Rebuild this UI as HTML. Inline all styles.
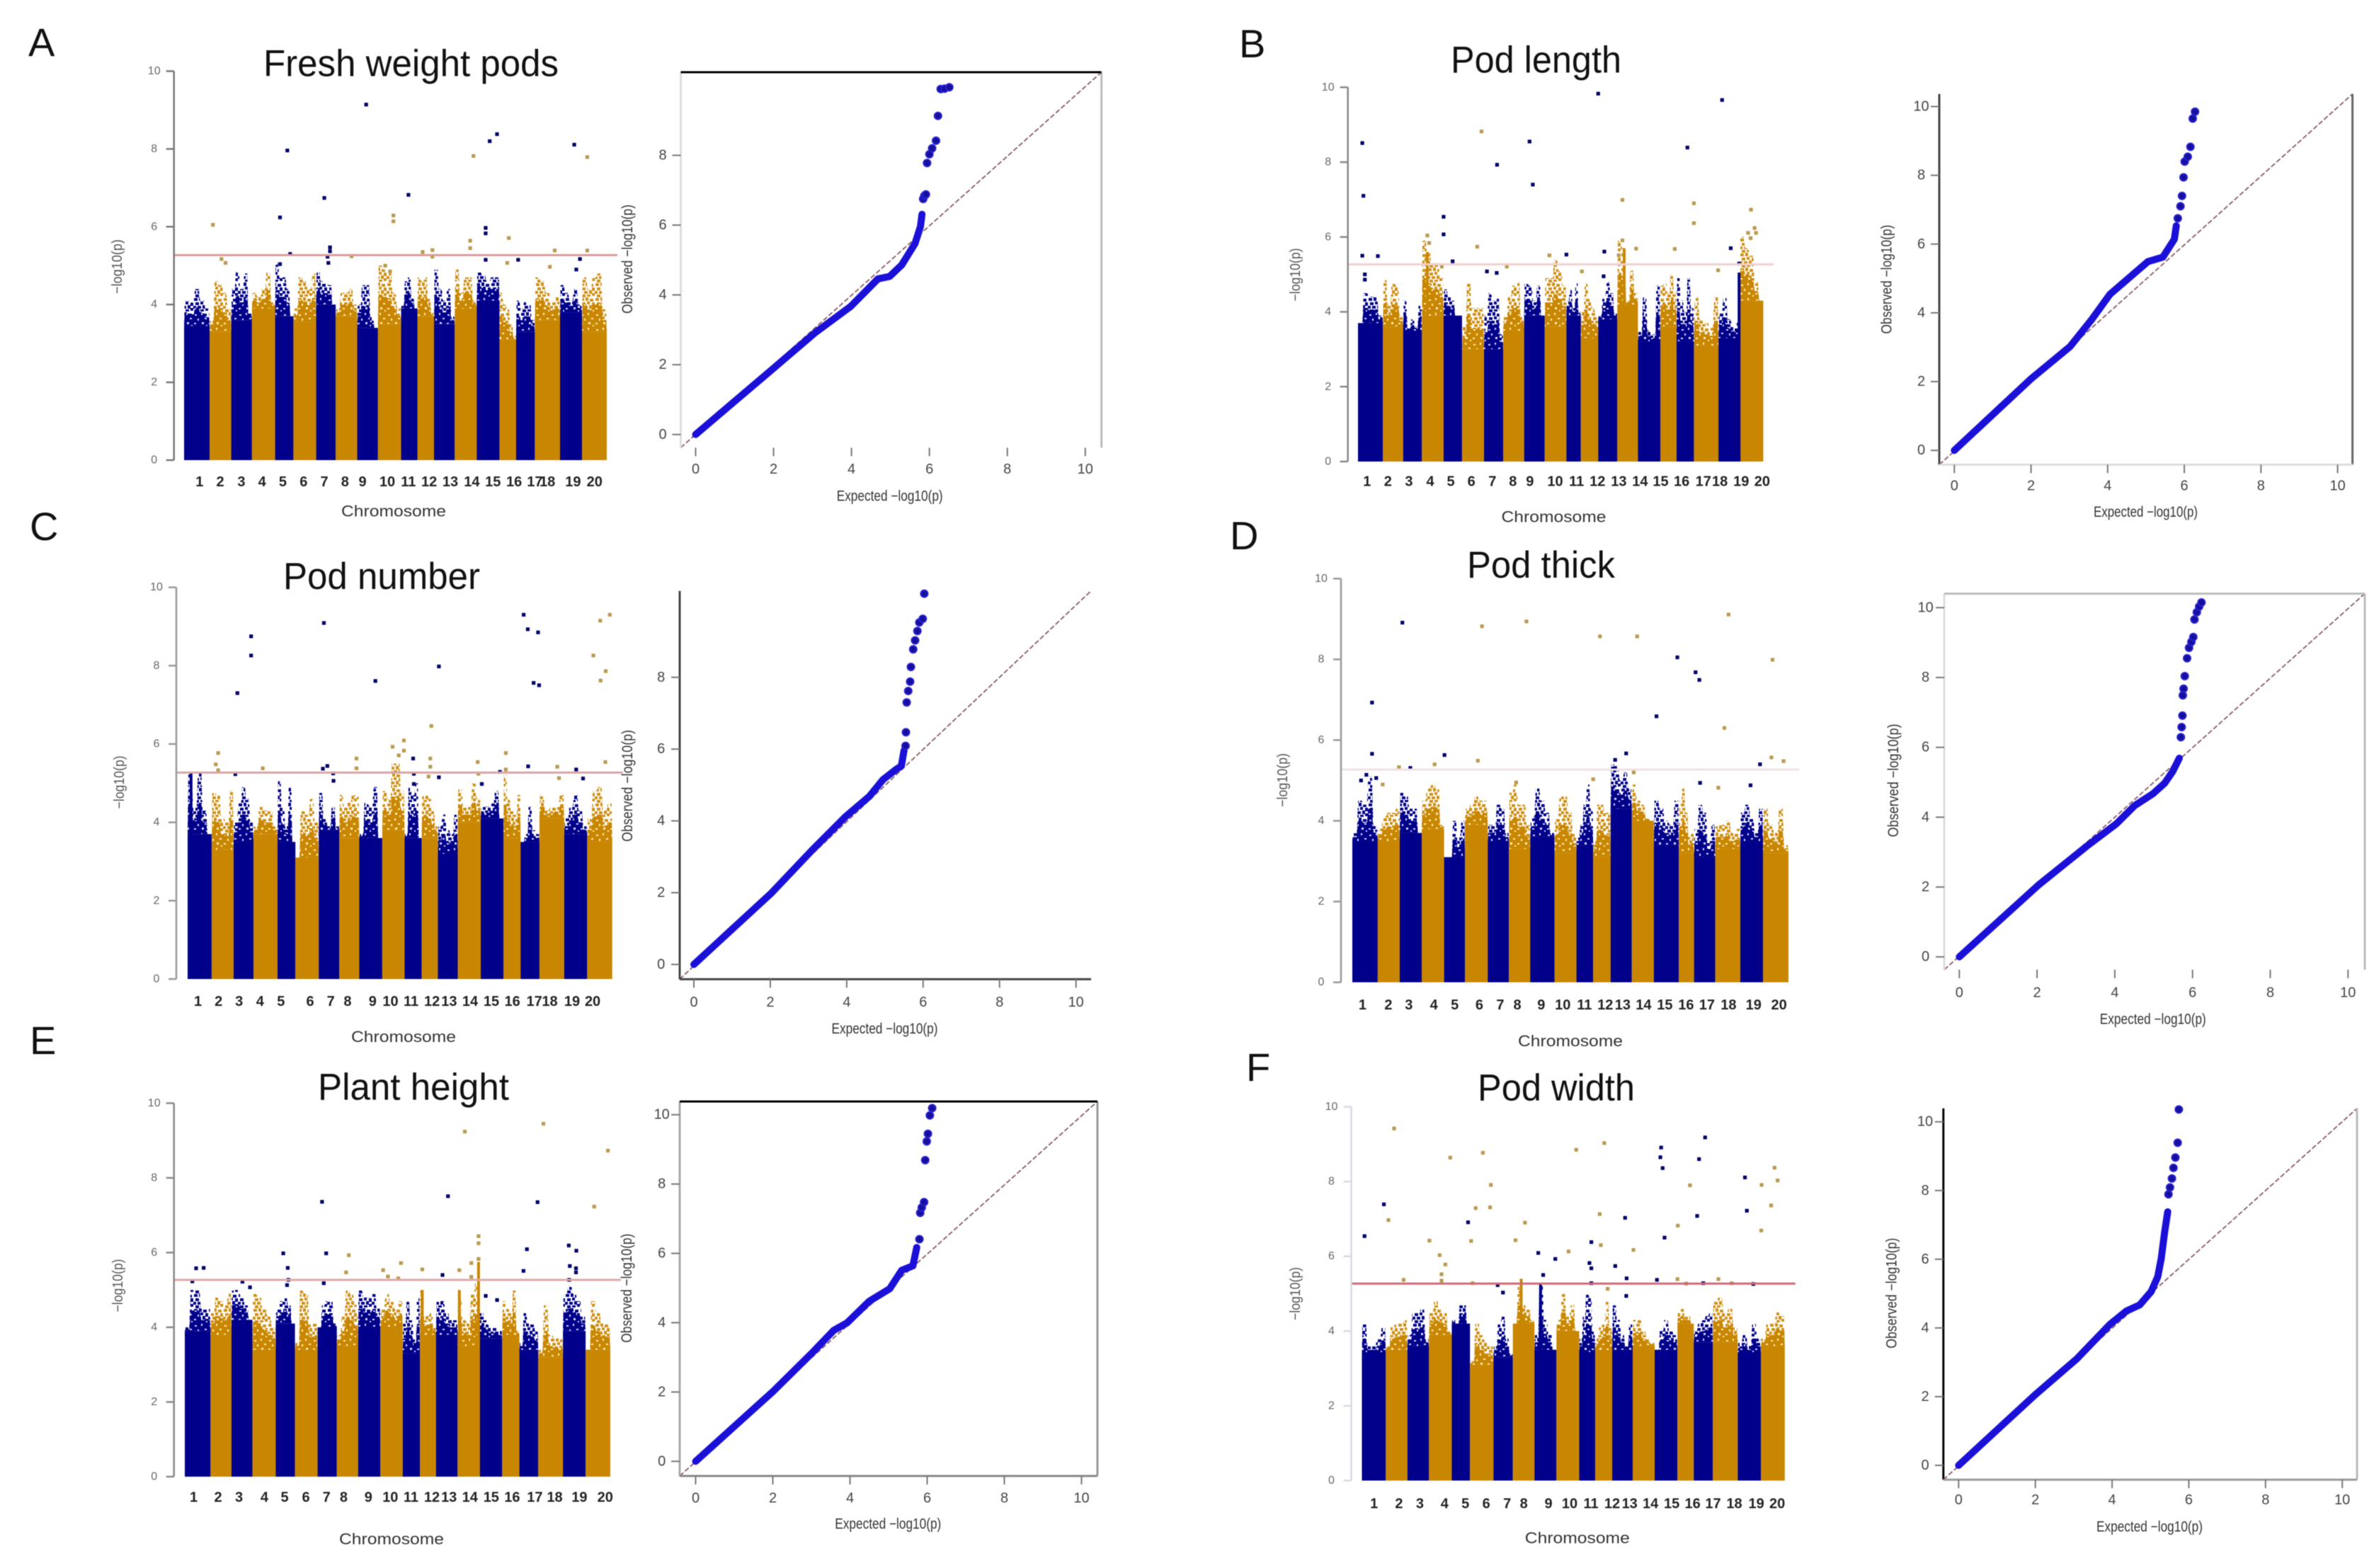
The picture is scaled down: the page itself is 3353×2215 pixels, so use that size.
<!DOCTYPE html>
<html lang="en">
<head>
<meta charset="utf-8">
<title>GWAS Manhattan and QQ plots</title>
<style>
html,body{margin:0;padding:0;background:#fff;}
svg{display:block;}
text{font-family:"Liberation Sans",sans-serif;}
#plots,#labels{filter:blur(0.6px);}
</style>
</head>
<body>
<svg id="figure" xmlns="http://www.w3.org/2000/svg" width="3353" height="2215" viewBox="0 0 3353 2215">
<defs>
<pattern id="sparse-navy" width="21" height="21" patternUnits="userSpaceOnUse"><path fill="#00008a" d="M1 1h5v4h-5z M8 0h4v5h-4z M14 2h5v4h-5z M3 7h5v4h-5z M10 6h4v4h-4z M17 7h4v5h-4z M0 12h4v4h-4z M6 12h5v4h-5z M13 11h4v5h-4z M3 17h5v4h-5z M10 17h5v3h-5z M17 15h4v4h-4z"/></pattern>
<pattern id="sparse-orange" width="21" height="21" patternUnits="userSpaceOnUse"><path fill="#cf9015" d="M1 1h5v4h-5z M8 0h4v5h-4z M14 2h5v4h-5z M3 7h5v4h-5z M10 6h4v4h-4z M17 7h4v5h-4z M0 12h4v4h-4z M6 12h5v4h-5z M13 11h4v5h-4z M3 17h5v4h-5z M10 17h5v3h-5z M17 15h4v4h-4z"/></pattern>
<pattern id="dense-navy" width="21" height="21" patternUnits="userSpaceOnUse"><rect width="21" height="21" fill="#00008a"/><path fill="#d8d8ff" d="M2 3h3v2h-3z M11 1h2v3h-2z M16 8h3v2h-3z M6 9h2v3h-2z M1 15h3v2h-3z M12 14h3v3h-3z M18 18h2v2h-2z"/></pattern>
<pattern id="dense-orange" width="21" height="21" patternUnits="userSpaceOnUse"><rect width="21" height="21" fill="#c98600"/><path fill="#fff2c0" d="M2 3h3v2h-3z M11 1h2v3h-2z M16 8h3v2h-3z M6 9h2v3h-2z M1 15h3v2h-3z M12 14h3v3h-3z M18 18h2v2h-2z"/></pattern>
</defs>
<rect width="3353" height="2215" fill="#fff"/>
<g id="plots"></g>
<g id="labels">
  <g fill="#111" font-size="56">
    <text x="40" y="79">A</text>
    <text x="1750" y="81">B</text>
    <text x="42" y="763">C</text>
    <text x="1737" y="776">D</text>
    <text x="42" y="1489">E</text>
    <text x="1760" y="1527">F</text>
  </g>
  <g fill="#111" font-size="53" text-anchor="middle">
    <text x="580.5" y="107.6" textLength="417" lengthAdjust="spacingAndGlyphs">Fresh weight pods</text>
    <text x="2169.5" y="102.6" textLength="241" lengthAdjust="spacingAndGlyphs">Pod length</text>
    <text x="539" y="832" textLength="278" lengthAdjust="spacingAndGlyphs">Pod number</text>
    <text x="2176.5" y="816" textLength="209" lengthAdjust="spacingAndGlyphs">Pod thick</text>
    <text x="584" y="1553.4" textLength="270" lengthAdjust="spacingAndGlyphs">Plant height</text>
    <text x="2198" y="1554.3" textLength="222" lengthAdjust="spacingAndGlyphs">Pod width</text>
  </g>
  <g fill="#333" font-size="22" text-anchor="middle" dominant-baseline="central">
    <text x="556" y="722" textLength="148" lengthAdjust="spacingAndGlyphs">Chromosome</text>
    <text x="2194.5" y="730" textLength="148" lengthAdjust="spacingAndGlyphs">Chromosome</text>
    <text x="570" y="1464.7" textLength="148" lengthAdjust="spacingAndGlyphs">Chromosome</text>
    <text x="2218" y="1470.7" textLength="148" lengthAdjust="spacingAndGlyphs">Chromosome</text>
    <text x="553" y="2174" textLength="148" lengthAdjust="spacingAndGlyphs">Chromosome</text>
    <text x="2227.8" y="2172.7" textLength="148" lengthAdjust="spacingAndGlyphs">Chromosome</text>
  </g>
  <g fill="#555" font-size="20" text-anchor="middle">
    <text transform="translate(172,376.6) rotate(-90)" textLength="77" lengthAdjust="spacingAndGlyphs">−log10(p)</text>
    <text transform="translate(1836,388) rotate(-90)" textLength="75" lengthAdjust="spacingAndGlyphs">−log10(p)</text>
    <text transform="translate(175,1105) rotate(-90)" textLength="75" lengthAdjust="spacingAndGlyphs">−log10(p)</text>
    <text transform="translate(1818,1102) rotate(-90)" textLength="76" lengthAdjust="spacingAndGlyphs">−log10(p)</text>
    <text transform="translate(173,1816) rotate(-90)" textLength="75" lengthAdjust="spacingAndGlyphs">−log10(p)</text>
    <text transform="translate(1836,1827.5) rotate(-90)" textLength="75" lengthAdjust="spacingAndGlyphs">−log10(p)</text>
  </g>
  <g fill="#333" font-size="21" text-anchor="middle" dominant-baseline="central">
    <text x="1256.7" y="701" textLength="150" lengthAdjust="spacingAndGlyphs">Expected −log10(p)</text>
    <text x="3030.5" y="723.7" textLength="147" lengthAdjust="spacingAndGlyphs">Expected −log10(p)</text>
    <text x="1249.5" y="1453.5" textLength="150" lengthAdjust="spacingAndGlyphs">Expected −log10(p)</text>
    <text x="3040.8" y="1440" textLength="150" lengthAdjust="spacingAndGlyphs">Expected −log10(p)</text>
    <text x="1254.3" y="2153" textLength="150" lengthAdjust="spacingAndGlyphs">Expected −log10(p)</text>
    <text x="3036" y="2157" textLength="150" lengthAdjust="spacingAndGlyphs">Expected −log10(p)</text>
  </g>
  <g fill="#333" font-size="21" text-anchor="middle">
    <text transform="translate(893,366) rotate(-90)" textLength="154" lengthAdjust="spacingAndGlyphs">Observed −log10(p)</text>
    <text transform="translate(2671.5,394.6) rotate(-90)" textLength="154" lengthAdjust="spacingAndGlyphs">Observed −log10(p)</text>
    <text transform="translate(893,1110) rotate(-90)" textLength="158" lengthAdjust="spacingAndGlyphs">Observed −log10(p)</text>
    <text transform="translate(2681,1102.5) rotate(-90)" textLength="160" lengthAdjust="spacingAndGlyphs">Observed −log10(p)</text>
    <text transform="translate(892,1819.7) rotate(-90)" textLength="154" lengthAdjust="spacingAndGlyphs">Observed −log10(p)</text>
    <text transform="translate(2678.5,1826.7) rotate(-90)" textLength="156" lengthAdjust="spacingAndGlyphs">Observed −log10(p)</text>
  </g>
</g>
</svg>
<script>
/* Shared tick labels */
const chromLabels = ['1','2','3','4','5','6','7','8','9','10','11','12','13','14','15','16','17','18','19','20'];
const manhattanYTicks = [0,2,4,6,8,10];
const qqXTicks = [0,2,4,6,8,10];
const qqYTicksShort = [0,2,4,6,8];
const qqYTicksFull = [0,2,4,6,8,10];
const thresholdValue = 5.27;

/* Panel A – Fresh weight pods */
const chromWidths_A = [63,53,51,57,45,56,48,53,51,57,40,41,51,54,56,41,46,62,54,61];
const chromTicks_A = [38,89,141,192,243,294,345,396,439,500,552,603,655,708,760,812,863,894,957,1010];
const solid_A = [3.45,3.3,3.6,3.9,3.7,3.55,4.0,3.7,3.4,3.5,3.9,3.7,3.5,3.9,4.1,3.1,3.3,3.6,3.8,3.3];
const tops_A = [[4.1,4.05,4.4,4.1,3.9],[3.6,4.6,4.5,4.3,3.9],[4.4,4.85,4.4,4.8,3.8],[4.3,4.2,4.4,4.85,4.1],[5.05,4.7,4.7,4.4,3.3],[3.9,4.7,4.6,4.4,4.8],[4.85,4.6,4.55,4.5,3.9],[3.9,4.3,4.3,4.4,4.0],[4.0,4.5,4.5,3.7,3.3],[5.0,4.9,4.8,4.3,3.9],[4.0,4.6,4.7,4.2,3.6],[4.7,4.6,4.7,4.2,3.8],[4.9,4.4,4.1,4.4,3.7],[4.9,4.3,4.7,4.7,4.1],[4.85,4.75,4.6,4.7,4.7],[4.3,4.0,3.9,3.5,3.2],[4.1,3.9,4.1,4.0,3.6],[4.7,4.6,4.3,4.1,4.2],[4.5,4.3,4.1,4.4,4.0],[4.7,4.4,4.7,4.8,3.9]];
const spikes_A = [];
const outliers_A = [[448,9.14],[254,7.96],[770,8.38],[752,8.2],[712,7.82],[960,8.11],[992,7.79],[552,6.82],[345,6.74],[236,6.24],[515,6.29],[515,6.14],[71,6.05],[742,5.97],[742,5.83],[799,5.71],[704,5.64],[704,5.45],[359,5.47],[359,5.37],[261,5.3],[353,5.23],[355,5.07],[587,5.35],[611,5.4],[611,5.23],[912,5.39],[992,5.39],[974,5.17],[822,5.15],[742,5.15],[92,5.17],[102,5.07],[236,5.04],[412,5.24],[495,5.0],[507,4.85],[795,5.07],[900,4.97],[965,4.9]];

/* Panel B – Pod length */
const chromWidths_B = [69,56,52,60,51,61,53,58,57,60,40,48,53,57,62,45,48,68,59,65];
const chromTicks_B = [25,83,141,200,257,314,372,429,476,546,605,663,722,781,838,896,956,1002,1061,1119];
const solid_B = [3.7,3.6,3.5,3.9,3.9,3.0,3.0,3.5,3.9,3.6,3.9,3.3,3.8,4.2,3.2,3.6,3.2,3.1,3.3,4.3];
const tops_B = [[3.6,4.5,4.4,4.4,3.9],[4.85,4.2,4.8,4.7,3.9],[4.3,3.6,3.8,3.6,4.2],[5.9,5.6,5.3,5.3,4.9],[4.6,4.4,4.3,3.9,3.9],[3.6,4.8,4.1,4.1,4.1],[3.9,4.5,4.3,4.4,3.4],[3.9,4.4,4.7,4.8,3.9],[4.75,4.7,4.3,4.7,3.7],[4.9,4.9,5.4,5.1,4.7],[4.3,4.6,4.1,4.8,4.0],[4.0,4.8,4.4,4.1,3.9],[3.9,4.4,4.8,4.5,4.0],[5.9,5.7,4.3,5.1,4.5],[3.5,4.4,3.5,3.4,4.7],[4.7,4.8,4.5,5.0,4.5],[4.9,4.3,4.0,4.9,4.1],[4.4,3.8,3.7,3.6,4.4],[4.0,4.4,3.8,3.6,3.7],[6.0,5.7,5.5,4.8,3.7]];
const spikes_B = [[737,5.7],[1055,5.05],[192,5.6]];
const outliers_B = [[12,8.51],[15,7.1],[12,5.5],[55,5.49],[19,5.0],[19,4.86],[342,8.82],[385,7.93],[475,8.55],[484,7.4],[1008,9.66],[912,8.39],[930,6.9],[930,6.37],[732,6.99],[732,5.91],[722,5.51],[237,6.54],[237,6.07],[330,5.74],[192,6.04],[197,5.84],[262,5.35],[412,5.21],[530,5.51],[577,5.53],[682,5.61],[680,4.95],[620,5.08],[770,5.69],[877,5.68],[997,5.11],[1032,5.7],[1055,5.29],[1088,6.73],[1098,6.24],[1080,6.11],[1102,6.11],[1087,5.97],[384,5.04],[357,5.08],[232,5.21],[665,9.83]];

/* Panel C – Pod number */
const chromWidths_C = [70,64,58,70,52,68,60,58,67,65,50,47,58,67,66,50,55,72,67,73];
const chromTicks_C = [30,90,150,211,272,357,417,466,539,591,651,712,762,823,885,946,1010,1055,1120,1180];
const solid_C = [3.7,3.3,3.5,3.7,3.5,3.1,3.8,3.6,3.6,3.8,3.6,3.6,3.2,4.0,4.1,3.6,3.5,4.1,3.7,3.5];
const tops_C = [[5.25,4.4,5.25,4.3,3.7],[4.75,4.7,4.1,4.0,4.8],[4.0,4.5,4.9,4.6,4.0],[3.9,4.4,4.3,4.3,3.9],[5.05,4.4,3.9,4.9,3.4],[2.9,4.3,4.2,4.6,4.0],[4.75,4.1,3.9,4.4,3.9],[4.7,4.4,4.5,4.7,4.65],[3.7,4.5,4.4,4.9,3.5],[4.8,4.6,5.5,5.5,4.8],[3.7,4.9,4.7,5.0,3.6],[4.7,4.7,4.6,4.3,3.9],[3.9,4.2,3.8,3.7,4.2],[4.9,4.4,4.4,5.0,4.6],[4.4,4.4,4.5,4.8,4.1],[5.3,4.6,4.3,4.2,4.7],[3.2,3.7,4.4,3.8,3.7],[4.7,4.3,4.4,4.4,4.7],[4.1,4.4,4.7,4.3,3.9],[4.1,4.8,4.9,4.3,4.5]];
const spikes_C = [[10,5.25]];
const outliers_C = [[185,8.75],[185,8.26],[145,7.3],[397,9.09],[547,7.61],[732,7.98],[710,6.46],[979,9.3],[991,8.93],[1021,8.85],[1008,7.56],[1024,7.5],[1202,9.15],[1230,9.3],[1182,8.26],[1218,7.86],[1203,7.62],[630,6.09],[597,5.93],[630,5.83],[615,5.71],[657,5.63],[707,5.63],[707,5.42],[492,5.63],[492,5.38],[219,5.38],[89,5.77],[89,5.33],[82,5.48],[139,5.23],[407,5.44],[394,5.37],[424,5.25],[425,5.06],[845,5.54],[847,5.24],[927,5.77],[927,5.35],[910,5.29],[992,5.43],[1077,5.42],[1132,5.35],[1217,5.54],[732,5.15],[702,5.17],[857,4.98],[659,5.24],[659,4.98],[1152,5.12],[1082,5.13]];

/* Panel D – Pod thick */
const chromWidths_D = [67,58,58,59,55,60,56,56,64,58,44,46,56,58,66,40,56,66,60,67];
const chromTicks_D = [27,95,149,215,270,335,390,435,498,555,612,667,713,768,824,880,935,992,1058,1125];
const solid_D = [3.5,3.5,3.7,3.8,3.1,3.9,3.5,3.3,3.6,3.2,3.4,3.1,4.3,4.0,3.4,3.2,3.1,3.3,3.5,3.2];
const tops_D = [[3.7,4.5,4.4,5.1,3.9],[3.8,4.1,4.2,4.2,4.3],[4.7,4.6,4.3,4.3,3.7],[4.5,4.8,4.9,4.8,3.9],[3.1,3.1,4.0,3.6,4.0],[4.3,4.4,4.6,4.5,4.5],[3.9,3.9,4.4,4.3,3.7],[4.7,4.9,4.4,4.4,3.9],[4.1,4.8,4.5,4.2,3.7],[4.1,4.6,4.6,4.2,3.7],[3.6,3.9,4.4,4.9,4.3],[3.5,4.4,4.4,4.2,4.2],[5.4,5.25,5.0,5.2,4.8],[4.9,4.5,4.4,4.1,3.9],[4.5,4.3,4.0,3.9,4.5],[4.5,4.8,4.2,3.6,3.7],[3.8,4.4,4.2,3.5,3.9],[3.9,3.9,4.0,3.7,3.8],[4.2,4.4,4.1,3.7,4.3],[4.3,3.9,3.7,4.3,3.4]];
const spikes_D = [];
const outliers_D = [[52,6.93],[52,5.66],[132,8.91],[342,8.82],[459,8.94],[653,8.57],[751,8.57],[992,9.11],[857,8.05],[905,7.68],[915,7.49],[802,6.59],[981,6.3],[1108,7.99],[243,5.63],[331,5.49],[217,5.4],[123,5.33],[153,5.31],[722,5.67],[693,5.51],[693,5.31],[1075,5.4],[1105,5.57],[1137,5.48],[37,5.14],[23,5.0],[63,5.06],[635,5.03],[917,4.94],[1050,4.88],[965,4.82],[432,4.95],[80,4.9],[742,5.2]];

/* Panel E – Plant height */
const chromWidths_E = [75,61,61,68,56,66,56,62,65,65,50,47,63,62,68,50,55,72,66,72];
const chromTicks_E = [26,97,158,232,291,353,413,463,535,599,659,720,770,831,893,954,1020,1078,1150,1225];
const solid_E = [3.9,3.8,4.2,3.4,4.1,3.4,4.0,3.5,4.0,4.0,3.3,3.8,3.8,3.5,3.7,3.8,3.4,3.2,3.9,3.4];
const tops_E = [[4.0,5.0,5.0,4.5,4.5],[4.4,4.8,4.7,4.6,4.9],[5.0,5.0,4.8,4.6,4.2],[4.9,4.8,4.5,4.3,4.0],[4.5,4.7,4.8,4.6,4.0],[3.6,5.0,4.9,4.1,4.1],[3.9,4.6,4.7,4.7,4.1],[3.8,4.3,5.0,4.9,4.6],[5.0,4.8,4.8,4.9,4.5],[4.5,4.9,4.7,4.5,4.7],[4.1,4.7,4.2,3.7,4.8],[5.0,4.3,4.3,4.4,4.0],[4.7,4.7,4.4,4.2,4.2],[4.9,4.2,4.1,4.9,5.2],[4.4,4.2,4.0,4.0,3.9],[4.7,4.5,4.4,5.0,3.9],[3.6,4.4,4.1,4.1,3.9],[3.4,4.6,3.8,3.7,3.7],[4.9,5.1,4.9,4.7,4.3],[3.4,4.7,4.4,4.1,4.1]];
const spikes_E = [[692,5.0],[800,5.0],[856,5.75]];
const outliers_E = [[816,9.24],[1045,9.45],[1233,8.73],[400,7.36],[767,7.51],[1028,7.35],[1193,7.23],[856,6.44],[856,6.25],[856,5.83],[835,5.72],[287,5.98],[412,5.98],[478,5.93],[997,6.09],[1119,6.19],[1141,6.05],[300,5.59],[33,5.58],[55,5.59],[630,5.72],[578,5.53],[470,5.47],[692,5.55],[800,5.53],[987,5.51],[1122,5.64],[1140,5.58],[1140,5.47],[751,5.4],[835,5.35],[592,5.36],[622,5.31],[302,5.27],[298,5.13],[22,5.23],[168,5.22],[1120,5.27],[190,5.07],[405,5.18],[877,4.84],[910,4.73]];

/* Panel F – Pod width */
const chromWidths_F = [63,57,57,60,48,62,51,57,58,60,42,45,54,58,60,43,50,66,61,63];
const chromTicks_F = [32,98,153,218,273,328,383,427,492,548,604,660,706,761,817,872,926,982,1040,1095];
const solid_F = [3.4,3.5,3.6,3.9,4.2,3.1,3.3,4.2,3.5,4.0,3.4,3.5,3.5,3.6,3.5,4.2,3.7,3.7,3.4,3.6];
const tops_F = [[4.2,3.6,3.6,3.8,4.1],[3.6,4.1,4.2,4.2,4.3],[3.9,4.5,4.5,4.6,3.8],[4.5,4.8,4.6,4.5,4.0],[4.3,4.2,4.7,4.7,3.9],[3.2,4.2,3.9,3.7,3.6],[3.6,4.2,4.4,3.8,3.4],[4.0,5.2,4.7,4.6,4.3],[3.9,5.25,4.3,3.9,3.5],[4.3,5.0,4.4,4.7,3.9],[3.8,4.4,5.0,4.9,4.0],[3.8,4.1,4.2,4.8,4.1],[4.7,4.3,3.9,3.6,4.2],[4.3,4.3,4.0,3.8,3.7],[3.5,4.0,4.3,4.0,3.9],[4.5,4.6,4.4,4.4,4.2],[4.0,4.2,4.3,4.4,4.5],[4.8,4.9,4.5,4.6,4.1],[3.7,3.9,3.6,4.2,3.8],[3.8,4.2,4.2,4.5,4.4]];
const spikes_F = [[420,5.4],[471,5.25]];
const outliers_F = [[85,9.42],[58,7.39],[70,6.97],[7,6.54],[178,6.42],[233,8.64],[319,8.77],[340,7.91],[338,7.31],[300,7.29],[280,6.91],[288,6.41],[430,6.9],[405,6.43],[465,6.09],[510,5.93],[565,8.85],[545,6.13],[639,9.03],[627,7.13],[605,6.38],[630,6.3],[600,5.82],[605,5.68],[694,7.03],[716,6.17],[668,5.74],[789,8.91],[787,8.65],[793,8.36],[905,9.18],[889,8.6],[865,7.9],[884,7.08],[833,6.82],[798,6.5],[1010,8.11],[1054,7.91],[1015,7.22],[1053,6.69],[1088,8.37],[1096,8.03],[1079,7.36],[205,6.03],[220,5.78],[210,5.52],[210,5.35],[110,5.37],[478,5.5],[605,5.28],[698,5.41],[778,5.37],[832,5.39],[900,5.28],[940,5.39],[975,5.28],[1032,5.26],[855,5.27],[292,5.28],[358,5.23],[372,5.03],[648,5.13],[697,4.94]];

/* QQ series: [expected, observed] */
const qqBody_A = [[0,0],[2.0,1.9],[3.07,2.92],[3.98,3.67],[4.68,4.46],[4.98,4.53],[5.29,4.86],[5.63,5.47],[5.77,5.96],[5.81,6.31]];
const qqTail_A = [[5.84,6.75],[5.87,6.84],[5.91,6.88],[5.94,7.78],[6.0,8.03],[6.07,8.2],[6.17,8.42],[6.22,9.13],[6.29,9.9],[6.39,9.91],[6.51,9.95]];
const qqBody_B = [[0,0],[1.99,2.07],[3.02,3.02],[3.58,3.8],[4.06,4.54],[5.05,5.49],[5.44,5.62],[5.74,6.14],[5.79,6.53]];
const qqTail_B = [[5.83,6.75],[5.9,7.1],[5.94,7.4],[5.98,7.94],[6.01,8.4],[6.09,8.54],[6.16,8.83],[6.22,9.65],[6.28,9.85]];
const qqBody_C = [[0,0],[2.02,1.98],[3.09,3.18],[3.97,4.12],[4.59,4.68],[4.95,5.15],[5.3,5.44],[5.43,5.53],[5.5,5.96]];
const qqTail_C = [[5.54,6.09],[5.55,6.47],[5.57,7.3],[5.61,7.62],[5.66,7.88],[5.68,8.29],[5.74,8.78],[5.79,9.03],[5.85,9.29],[5.9,9.53],[5.99,9.63],[6.03,10.33]];
const qqBody_D = [[0,0],[2.04,2.06],[3.28,3.17],[4.04,3.81],[4.51,4.33],[4.98,4.67],[5.28,4.97],[5.49,5.31],[5.66,5.69]];
const qqTail_D = [[5.7,6.29],[5.72,6.58],[5.74,6.91],[5.75,7.49],[5.77,7.68],[5.8,8.04],[5.86,8.55],[5.91,8.85],[5.97,9.02],[6.02,9.16],[6.05,9.66],[6.11,9.87],[6.17,10.03],[6.23,10.15]];
const qqBody_E = [[0,0],[2,2.01],[3.01,3.12],[3.58,3.78],[3.93,4],[4.5,4.62],[5.03,4.98],[5.34,5.51],[5.63,5.64],[5.73,6.17]];
const qqTail_E = [[5.8,6.41],[5.82,7.17],[5.86,7.32],[5.92,7.48],[5.95,8.69],[5.99,9.23],[6.02,9.45],[6.07,9.98],[6.13,10.19]];
const qqBody_F = [[0,0],[2,2.06],[3.08,3.1],[3.94,4.1],[4.37,4.49],[4.72,4.67],[5.02,5.06],[5.19,5.49],[5.28,6.01],[5.37,6.79],[5.45,7.38]];
const qqTail_F = [[5.47,7.89],[5.51,8.09],[5.56,8.35],[5.6,8.66],[5.65,8.96],[5.71,9.39],[5.74,10.36]];

const NS = 'http://www.w3.org/2000/svg';
const plots = document.getElementById('plots');
const NAVY = '#00008a';
const ORANGE = '#c98600';

function make(tag, attrs, parent) {
  const node = document.createElementNS(NS, tag);
  for (const key in attrs) node.setAttribute(key, attrs[key]);
  parent.appendChild(node);
  return node;
}

function drawManhattan(id, geo, widths, ticks, solid, tops, spikes, outliers) {
  const g = make('g', {}, plots);
  
  
  const total = widths.reduce((a, b) => a + b, 0);
  const xScale = v => geo.barL + v / total * (geo.barR - geo.barL);
  const yScale = v => geo.y0 - v / 10 * (geo.y0 - geo.y10);
  const isNavy = i => i % 2 === 0;
  const chromOf = x => {
    let c = 0;
    for (let i = 0; i < widths.length; i++) {
      if (x < c + widths[i]) return i;
      c += widths[i];
    }
    return widths.length - 1;
  };
  let start = 0;
  widths.forEach((w, i) => {
    const left = xScale(start);
    const right = xScale(start + w);
    const suffix = isNavy(i) ? 'navy' : 'orange';
    const base = yScale(solid[i]);
    const n = tops[i].length;
    const upper = [left + ',' + base];
    const lower = [left + ',' + base];
    tops[i].forEach((t, k) => {
      const p1 = xScale(start + w * (k + 0.12) / n);
      const p2 = xScale(start + w * (k + 0.88) / n);
      const up = yScale(Math.max(t, solid[i]));
      const low = yScale(solid[i] + Math.max(t - solid[i], 0) * 0.5);
      upper.push(p1 + ',' + up, p2 + ',' + up);
      lower.push(p1 + ',' + low, p2 + ',' + low);
    });
    upper.push(right + ',' + base);
    lower.push(right + ',' + base);
    const sparse = make('polygon', {points: upper.join(' '), fill: 'url(#sparse-' + suffix + ')'}, g);
    
    
    const dense = make('polygon', {points: lower.join(' '), fill: 'url(#dense-' + suffix + ')'}, g);
    
    
    const bar = make('rect', {x: left, y: base, width: right - left, height: geo.y0 - base, fill: isNavy(i) ? NAVY : ORANGE}, g);
    
    
    start += w;
  });
  spikes.forEach(s => {
    const top = yScale(s[1]);
    const spike = make('rect', {x: xScale(s[0]) - 2, y: top, width: 4, height: geo.y0 - top, fill: isNavy(chromOf(s[0])) ? NAVY : ORANGE}, g);
    
    
  });
  outliers.forEach(p => {
    const navy = isNavy(chromOf(p[0]));
    const dot = make('rect', {x: xScale(p[0]) - 2.6, y: yScale(p[1]) - 2.6, width: 5.2, height: 5.2, fill: navy ? '#00006a' : '#b99a50'}, g);
    
    
  });
  const threshold = make('line', {x1: geo.axisX, x2: geo.barR + 15, y1: yScale(thresholdValue), y2: yScale(thresholdValue), stroke: geo.lineColor, 'stroke-width': 3}, g);
  
  
  const axis = make('line', {x1: geo.axisX, x2: geo.axisX, y1: geo.y10, y2: geo.y0, stroke: geo.axisColor, 'stroke-width': 2.5}, g);
  
  
  manhattanYTicks.forEach(v => {
    const tick = make('line', {x1: geo.axisX - 11, x2: geo.axisX, y1: yScale(v), y2: yScale(v), stroke: geo.axisColor, 'stroke-width': 2.5}, g);
    
    
    const label = make('text', {x: geo.axisX - 28, y: yScale(v), 'font-size': 16, fill: '#666', 'text-anchor': 'middle', 'dominant-baseline': 'central'}, g);
    label.textContent = String(v);
    
    
  });
  chromLabels.forEach((c, i) => {
    const label = make('text', {x: xScale(ticks[i]), y: geo.labelY, 'font-size': 20, 'font-weight': 'bold', fill: '#222', 'text-anchor': 'middle', 'dominant-baseline': 'central'}, g);
    label.textContent = c;
    
    
  });
}

function drawQQ(id, geo, body, tail, yTicks) {
  const g = make('g', {}, plots);
  
  
  const xScale = v => geo.x0 + v * geo.xUnit;
  const yScale = v => geo.y0 - v * geo.yUnit;
  const diagonal = make('line', {x1: geo.l, y1: geo.b, x2: geo.r, y2: geo.t, stroke: '#8a5a6a', 'stroke-width': 1.8, 'stroke-dasharray': '7 3'}, g);
  
  
  const edges = [
    ['left', geo.l, geo.t, geo.l, geo.b, geo.left],
    ['right', geo.r, geo.t, geo.r, geo.b, geo.right],
    ['top', geo.l, geo.t, geo.r, geo.t, geo.top],
    ['bottom', geo.l, geo.b, geo.r, geo.b, geo.bottom]
  ];
  edges.forEach(e => {
    if (!e[5]) return;
    const edge = make('line', {x1: e[1], y1: e[2], x2: e[3], y2: e[4], stroke: e[5], 'stroke-width': 3}, g);
    
    
  });
  qqXTicks.forEach(v => {
    const tick = make('line', {x1: xScale(v), x2: xScale(v), y1: geo.b, y2: geo.b + 12, stroke: '#777', 'stroke-width': 2}, g);
    
    
    const label = make('text', {x: xScale(v), y: geo.xLabelY, 'font-size': 20, fill: '#444', 'text-anchor': 'middle', 'dominant-baseline': 'central'}, g);
    label.textContent = String(v);
    
    
  });
  yTicks.forEach(v => {
    const tick = make('line', {x1: geo.l - 12, x2: geo.l, y1: yScale(v), y2: yScale(v), stroke: '#777', 'stroke-width': 2}, g);
    
    
    const label = make('text', {x: geo.yLabelX, y: yScale(v), 'font-size': 20, fill: '#444', 'text-anchor': 'middle', 'dominant-baseline': 'central'}, g);
    label.textContent = String(v);
    
    
  });
  const band = make('polyline', {points: body.map(p => xScale(p[0]) + ',' + yScale(p[1])).join(' '), fill: 'none', stroke: '#1a10d8', 'stroke-width': 10, 'stroke-linecap': 'round', 'stroke-linejoin': 'round'}, g);
  
  
  tail.forEach(p => {
    const dot = make('circle', {cx: xScale(p[0]), cy: yScale(p[1]), r: 5, fill: '#14109c', stroke: '#2a20d0', 'stroke-width': 2}, g);
    
    
  });
}

drawManhattan('a', {axisX:245.7,y0:650,y10:100.5,barL:260,barR:857,labelY:681,axisColor:'#777',lineColor:'#dc9a9a'}, chromWidths_A, chromTicks_A, solid_A, tops_A, spikes_A, outliers_A);
drawManhattan('b', {axisX:1903.7,y0:652,y10:123.3,barL:1918,barR:2490.4,labelY:680.7,axisColor:'#888',lineColor:'#f0d0d0'}, chromWidths_B, chromTicks_B, solid_B, tops_B, spikes_B, outliers_B);
drawManhattan('c', {axisX:249,y0:1383,y10:829.7,barL:265,barR:864.7,labelY:1415,axisColor:'#999',lineColor:'#d8a5a5'}, chromWidths_C, chromTicks_C, solid_C, tops_C, spikes_C, outliers_C);
drawManhattan('d', {axisX:1894,y0:1387.6,y10:817.4,barL:1910,barR:2526,labelY:1419.8,axisColor:'#999',lineColor:'#efe2e2'}, chromWidths_D, chromTicks_D, solid_D, tops_D, spikes_D, outliers_D);
drawManhattan('e', {axisX:245.7,y0:2086,y10:1558.4,barL:261,barR:862,labelY:2115.3,axisColor:'#888',lineColor:'#dfa8a8'}, chromWidths_E, chromTicks_E, solid_E, tops_E, spikes_E, outliers_E);
drawManhattan('f', {axisX:1908.5,y0:2091.5,y10:1563.5,barL:1923.5,barR:2520.8,labelY:2124.5,axisColor:'#d8d8e8',lineColor:'#d06a78'}, chromWidths_F, chromTicks_F, solid_F, tops_F, spikes_F, outliers_F);

drawQQ('a', {l:961.5,r:1555.7,t:102,b:632.4,x0:982.5,xUnit:55.03,y0:613.8,yUnit:49.3,xLabelY:662.8,yLabelX:936,left:'#ddd',right:'#bbb',top:'#000',bottom:null}, qqBody_A, qqTail_A, qqYTicksShort);
drawQQ('b', {l:2739,r:3322.6,t:132.8,b:656.4,x0:2760.3,xUnit:54.13,y0:636.2,yUnit:48.57,xLabelY:686.3,yLabelX:2713.5,left:'#444',right:'#666',top:null,bottom:'#ddd'}, qqBody_B, qqTail_B, qqYTicksFull);
drawQQ('c', {l:960,r:1541,t:834.7,b:1383.3,x0:980,xUnit:53.97,y0:1362.4,yUnit:50.7,xLabelY:1415.8,yLabelX:933.7,left:'#444',right:null,top:null,bottom:'#444'}, qqBody_C, qqTail_C, qqYTicksShort);
drawQQ('d', {l:2746,r:3340,t:838.6,b:1369.8,x0:2767.3,xUnit:54.9,y0:1351.7,yUnit:49.33,xLabelY:1402.6,yLabelX:2719.6,left:'#ddd',right:'#bbb',top:'#bbb',bottom:null}, qqBody_D, qqTail_D, qqYTicksFull);
drawQQ('e', {l:960,r:1550,t:1556,b:2085,x0:982.5,xUnit:54.5,y0:2064.3,yUnit:48.96,xLabelY:2116.3,yLabelX:934.7,left:'#aaa',right:'#999',top:'#000',bottom:'#888'}, qqBody_E, qqTail_E, qqYTicksFull);
drawQQ('f', {l:2744.8,r:3329,t:1565.8,b:2090.2,x0:2766.3,xUnit:54.19,y0:2070,yUnit:48.53,xLabelY:2119,yLabelX:2719,left:'#000',right:'#bbb',top:null,bottom:'#999'}, qqBody_F, qqTail_F, qqYTicksFull);
</script>
</body>
</html>
